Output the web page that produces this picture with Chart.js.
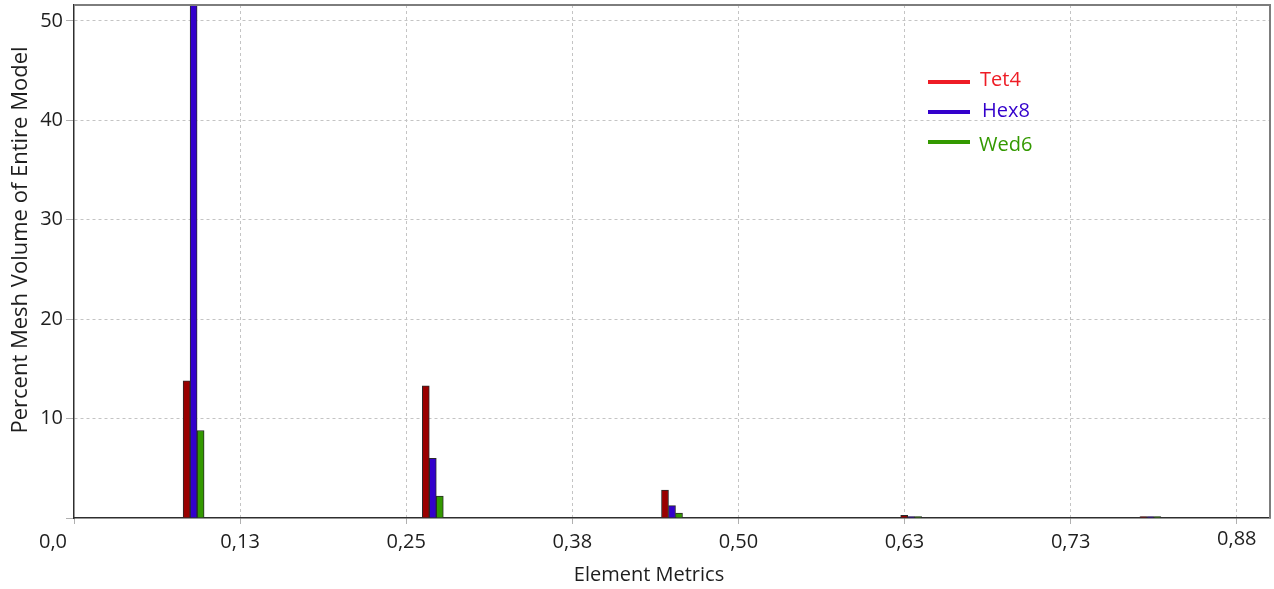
<!DOCTYPE html>
<html>
<head>
<meta charset="utf-8">
<script src="https://cdn.jsdelivr.net/npm/chart.js@4.4.1/dist/chart.umd.min.js"></script>
<style>
  html, body { margin: 0; padding: 0; background: #ffffff; }
  #wrap { width: 1274px; height: 589px; position: relative; }
</style>
</head>
<body>
<div id="wrap"><canvas id="c"></canvas></div>
<script>
// Histogram bins of the element metric (bin centres) and percent of model volume per element type
const binCenters = [0.09, 0.27, 0.45, 0.63, 0.81];
const tet4 = [13.8, 13.3, 2.8, 0.27, 0.15];
const hex8 = [54.0, 6.0, 1.25, 0.15, 0.15];
const wed6 = [8.8, 2.2, 0.5, 0.15, 0.15];

const seriesNames = ['Tet4', 'Hex8', 'Wed6'];
const xTickValues = [0, 0.125, 0.25, 0.375, 0.5, 0.625, 0.75, 0.875];
const xTickLabels = ['0,0', '0,13', '0,25', '0,38', '0,50', '0,63', '0,73', '0,88'];
const yTickValues = [10, 20, 30, 40, 50];

const barColors = ['#990000', '#3300cc', '#339900'];
const legendColors = ['#ee1c25', '#3300cc', '#339900'];
const FONT = '"Open Sans", "Noto Sans", sans-serif';

function points(vals) {
  return vals.map((v, i) => ({ x: binCenters[i], y: v }));
}

const datasets = [tet4, hex8, wed6].map((vals, k) => ({
  label: seriesNames[k],
  data: points(vals),
  backgroundColor: barColors[k],
  borderColor: '#2a2a2a',
  borderWidth: 1,
  barThickness: 7
}));

// Plot frame on the top and right edges
const framePlugin = {
  id: 'frame',
  afterDatasetsDraw(chart) {
    const { ctx, chartArea: a } = chart;
    ctx.save();
    ctx.strokeStyle = '#7d7d7d';
    ctx.lineWidth = 2;
    ctx.beginPath();
    ctx.moveTo(a.left, a.top);
    ctx.lineTo(a.right, a.top);
    ctx.lineTo(a.right, a.bottom);
    ctx.stroke();
    ctx.restore();
  }
};

// X tick labels and axis titles
const textPlugin = {
  id: 'axisText',
  afterDraw(chart) {
    const { ctx, chartArea: a } = chart;
    const xs = chart.scales.x;
    ctx.save();
    ctx.fillStyle = '#1e1e1e';
    ctx.font = '20px ' + FONT;
    ctx.textAlign = 'center';
    ctx.textBaseline = 'middle';
    xTickValues.forEach((v, i) => {
      let px = xs.getPixelForValue(v);
      let py = a.bottom + 24;
      if (i === 0) px -= 21;
      if (i === xTickLabels.length - 1) py -= 3;
      ctx.fillText(xTickLabels[i], px, py);
    });
    ctx.font = '20px ' + FONT;
    ctx.fillText('Element Metrics', 649, 575);
    ctx.font = '22px ' + FONT;
    ctx.translate(21, 240);
    ctx.rotate(-Math.PI / 2);
    ctx.fillText('Percent Mesh Volume of Entire Model', 0, 0);
    ctx.restore();
  }
};

// Legend drawn inside the plot
const legendPlugin = {
  id: 'innerLegend',
  afterDraw(chart) {
    const { ctx } = chart;
    const rows = [
      { ly: 82, tx: 980, ty: 80 },
      { ly: 112, tx: 982, ty: 111 },
      { ly: 142, tx: 979, ty: 145 }
    ];
    ctx.save();
    ctx.font = '20px ' + FONT;
    ctx.textAlign = 'left';
    ctx.textBaseline = 'middle';
    chart.data.datasets.forEach((ds, k) => {
      const r = rows[k];
      ctx.strokeStyle = legendColors[k];
      ctx.lineWidth = 4;
      ctx.beginPath();
      ctx.moveTo(928, r.ly);
      ctx.lineTo(970, r.ly);
      ctx.stroke();
      ctx.fillStyle = legendColors[k];
      ctx.fillText(ds.label, r.tx, r.ty);
    });
    ctx.restore();
  }
};

new Chart(document.getElementById('c'), {
  type: 'bar',
  data: { datasets },
  plugins: [framePlugin, textPlugin, legendPlugin],
  options: {
    responsive: true,
    maintainAspectRatio: false,
    animation: false,
    layout: { padding: { top: 5, right: 4, left: 0, bottom: 0 } },
    plugins: { legend: { display: false }, tooltip: { enabled: false } },
    scales: {
      x: {
        type: 'linear',
        min: 0,
        max: 0.9,
        offset: false,
        afterFit(s) { s.height = 71; s.paddingLeft = 0; s.paddingRight = 0; },
        afterBuildTicks(s) { s.ticks = xTickValues.map(v => ({ value: v })); },
        ticks: { display: false },
        grid: {
          offset: false,
          color: (c) => (c.tick && c.tick.value === 0 ? 'rgba(0,0,0,0)' : '#c4c4c4'),
          lineWidth: 1,
          tickLength: 6,
          tickColor: '#b0b0b0'
        },
        border: { display: true, color: '#2e2e2e', width: 1.5, dash: [3, 3] }
      },
      y: {
        min: 0,
        max: 51.6,
        afterFit(s) { s.width = 74; s.paddingTop = 0; s.paddingBottom = 0; },
        afterBuildTicks(s) { s.ticks = [0].concat(yTickValues).map(v => ({ value: v })); },
        ticks: {
          color: '#1e1e1e',
          font: { family: FONT, size: 20 },
          padding: 3,
          callback: (v) => (v === 0 ? '' : String(v))
        },
        grid: {
          color: (c) => (c.tick && c.tick.value === 0 ? 'rgba(0,0,0,0)' : '#c4c4c4'),
          lineWidth: 1,
          tickLength: 8,
          tickColor: '#b0b0b0'
        },
        border: { display: true, color: '#2e2e2e', width: 1.5, dash: [3, 3] }
      }
    }
  }
});
</script>
</body>
</html>
